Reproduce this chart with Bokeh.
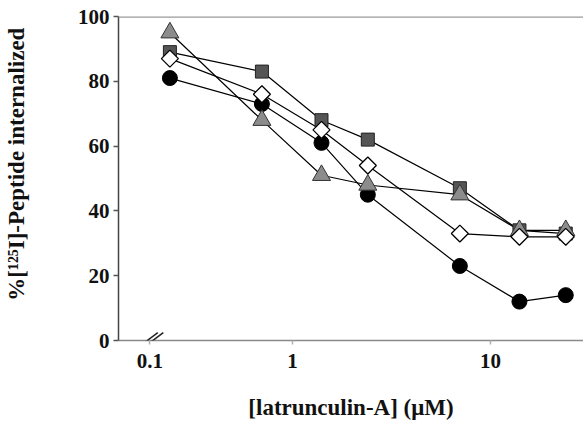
from bokeh.plotting import figure
from bokeh.models import Range1d, FixedTicker, Span, Arrow, ColumnDataSource
from bokeh.embed import file_html
from bokeh.resources import INLINE
import math

# ---- data ----
conc = [0.24, 0.7, 1.4, 2.4, 7, 14, 24]          # latrunculin-A (uM)
circle_vals = [81, 73, 61, 45, 23, 12, 14]
square_vals = [89, 83, 68, 62, 47, 34, 33]
triangle_vals = [95, 68, 51, 48, 45, 34, 34]
diamond_vals = [87, 76, 65, 54, 33, 32, 32]

break_position = 0.19
x_ticks = [break_position, 1, 10]
x_tick_labels = ["0.1", "1", "10"]
y_ticks = [0, 20, 40, 60, 80, 100]

x_label = "[latrunculin-A] (\u03bcM)"
y_label = "%[\u00b9\u00b2\u2075I]-Peptide internalized"

FONT = "Liberation Serif"

p = figure(width=583, height=426, x_axis_type="log",
           x_range=Range1d(0.132, 29.5), y_range=Range1d(0, 100),
           output_backend="svg", toolbar_location=None,
           min_border_left=118, min_border_right=0,
           min_border_top=16, min_border_bottom=86)
p.grid.visible = False
p.outline_line_color = None
p.background_fill_color = "white"
p.border_fill_color = "white"

# axes
p.xaxis.ticker = FixedTicker(ticks=x_ticks)
p.xaxis.major_label_overrides = dict(zip(x_ticks, x_tick_labels))
p.yaxis.ticker = FixedTicker(ticks=y_ticks)
for ax in (p.xaxis[0], p.yaxis[0]):
    ax.major_label_text_font = FONT
    ax.major_label_text_font_style = "bold"
    ax.major_label_text_font_size = "21px"
    ax.major_label_text_color = "#111111"
    ax.axis_label_text_font = FONT
    ax.axis_label_text_font_style = "bold"
    ax.axis_label_text_font_size = "23px"
    ax.axis_label_text_color = "#111111"
    ax.minor_tick_line_color = None
    ax.major_tick_in = 0
    ax.axis_line_width = 1.5
    ax.major_tick_line_width = 1.5

p.xaxis.major_tick_out = 4
p.yaxis.major_tick_out = 5
p.xaxis.axis_line_color = "#8a8a8a"
p.xaxis.major_tick_line_color = "#b0b0b0"
p.yaxis.axis_line_color = "#444444"
p.yaxis.major_tick_line_color = "#555555"
p.xaxis.major_label_standoff = 9
p.yaxis.major_label_standoff = 4
p.xaxis.axis_label = x_label
# leading no-break spaces nudge the rotated label upward, as in the reference
p.yaxis.axis_label = "\u00a0" * 5 + y_label
p.xaxis.axis_label_standoff = 24
p.yaxis.axis_label_standoff = 46

# top border line
p.add_layout(Span(location=100, dimension="width", line_color="#9a9a9a", line_width=2.5))

src = ColumnDataSource(dict(x=conc, c=circle_vals, s=square_vals, t=triangle_vals, d=diamond_vals))

for col in ("c", "s", "t", "d"):
    p.line("x", col, source=src, line_color="black", line_width=1.2)

p.scatter("x", "c", source=src, marker="circle", size=15,
          fill_color="black", line_color="black")
p.scatter("x", "s", source=src, marker="square", size=13,
          fill_color="#555555", line_color="#222222", line_width=1)
p.scatter("x", "t", source=src, marker="triangle", size=18,
          fill_color="#8c8c8c", line_color="#333333", line_width=1)
p.scatter("x", "d", source=src, marker="square", size=12, angle=math.pi / 4,
          fill_color="white", line_color="black", line_width=1.3)

# axis-break mark "//" drawn as two headless arrows in the bottom panel (not clipped)
for shift in (0.0, 5.5):
    f0 = 10 ** ((shift - 13) / 198.0)
    f1 = 10 ** ((shift + 8) / 198.0)
    p.add_layout(Arrow(end=None, start=None,
                       x_start=break_position * f0, y_start=-2.4,
                       x_end=break_position * f1, y_end=2.4,
                       line_color="#222222", line_width=1.5), "below")

open("out.html", "w").write(file_html(p, INLINE))
